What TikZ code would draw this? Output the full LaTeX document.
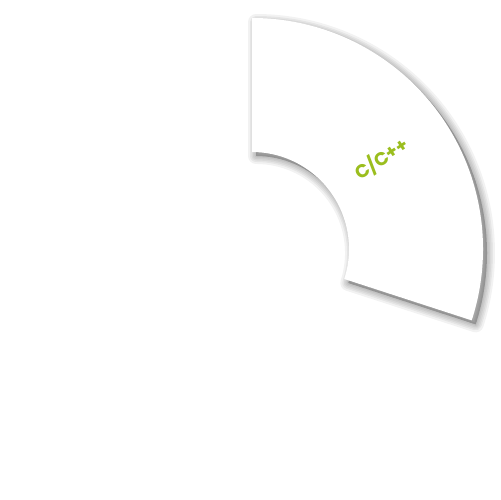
\documentclass[tikz,border=0pt]{standalone}
\usepackage{fontspec}
\setmainfont{Poppins}
\definecolor{cgreen}{HTML}{9BBE1E}
\tikzset{
  sector/.style={fill=white, draw=none},
  shadowring/.style={draw=black, fill=black, draw opacity=0.05, fill opacity=0.05, line join=round},
  label/.style={text=cgreen, font=\fontsize{10.5}{12}\selectfont\bfseries, inner sep=0pt}
}
\begin{document}
\begin{tikzpicture}[scale=0.02]
\useasboundingbox[fill=white] (-252,-251) rectangle (248,249);
\begin{scope}[shift={(4,-4)}]
\foreach \w in {16,12,9,6,3}{
  \path[shadowring, line width=\w*0.567pt] (90:231) arc[start angle=90, end angle=-18, radius=231]
    -- (-18:97) arc[start angle=-18, end angle=90, radius=97] -- cycle;
}
\end{scope}
\path[sector] (90:231) arc[start angle=90, end angle=-18, radius=231]
  -- (-18:97) arc[start angle=-18, end angle=90, radius=97] -- cycle;
\node[label, rotate=34] (lbl) at (35:158) {C/C++};
\end{tikzpicture}
\end{document}
